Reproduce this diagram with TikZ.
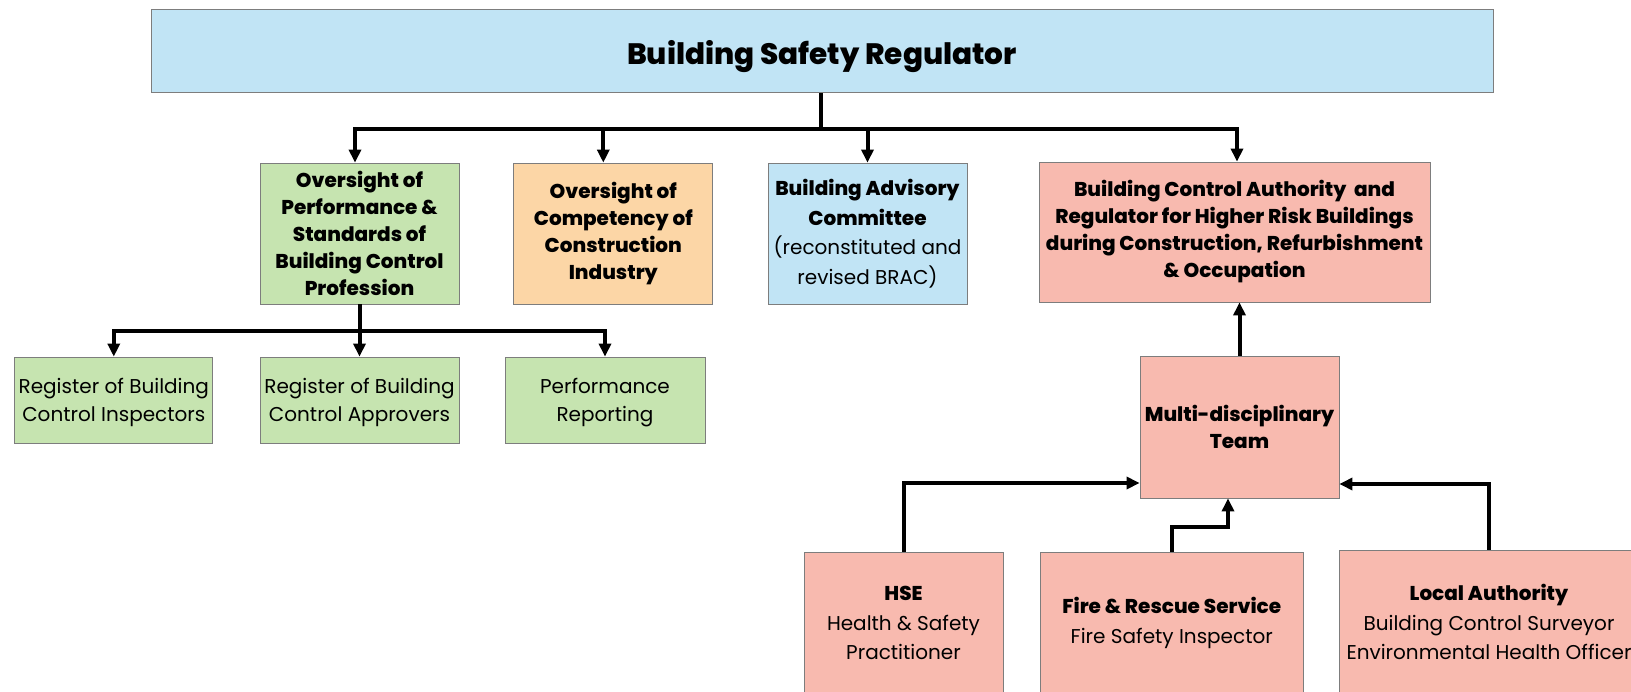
\documentclass[tikz,border=0pt]{standalone}
\usepackage{fontspec}
\setmainfont{Poppins}[BoldFont={Poppins ExtraBold}]
\usetikzlibrary{arrows.meta}
\definecolor{bsrblue}{RGB}{193,228,245}
\definecolor{bsrgreen}{RGB}{198,228,176}
\definecolor{bsrorange}{RGB}{252,214,166}
\definecolor{bsrred}{RGB}{248,186,175}
\definecolor{bsrborder}{RGB}{125,125,125}
\begin{document}
\begin{tikzpicture}[x=1pt,y=-1pt,
  box/.style={draw=bsrborder, line width=0.8pt, align=center, inner sep=0pt},
  boldtxt/.style={font=\fontsize{20}{27}\selectfont\bfseries},
  regtxt/.style={font=\fontsize{20}{29.5}\selectfont},
  regsmall/.style={font=\fontsize{20}{28}\selectfont, text depth=0pt},
  link/.style={line width=4pt, black},
  arr/.style={line width=4pt, black, -{Triangle[width=12pt,length=13pt]}}]
\useasboundingbox (0,0) rectangle (1631,691);
\clip (0,0) rectangle (1631,691);
\fill[white] (0,0) rectangle (1631,691);

% top
\node[box, fill=bsrblue, minimum width=1342pt, minimum height=83pt, text height=26pt, text depth=0pt,
  font=\fontsize{29.5}{32}\selectfont\bfseries] (bsr) at (822,51) {Building Safety Regulator};

% second row
\node[box, boldtxt, fill=bsrgreen, minimum width=199pt, minimum height=141pt] (ovp) at (359.5,233.5)
  {Oversight of\\Performance \&\\Standards of\\Building Control\\Profession};
\node[box, boldtxt, fill=bsrorange, minimum width=199pt, minimum height=141pt] (occ) at (613.3,233.5)
  {Oversight of\\Competency of\\Construction\\Industry};
\node[box, regtxt, fill=bsrblue, minimum width=199pt, minimum height=141pt] (bac) at (867.5,233.5)
  {\textbf{Building Advisory}\\\textbf{Committee}\\(reconstituted and\\revised BRAC)};
\node[box, boldtxt, fill=bsrred, minimum width=391pt, minimum height=140pt] (bca) at (1234.5,232)
  {Building Control Authority\ \ and\\Regulator for Higher Risk Buildings\\during Construction, Refurbishment\\\& Occupation};

% registers
\node[box, regsmall, fill=bsrgreen, minimum width=198pt, minimum height=86pt] (reg1) at (113.8,400)
  {Register of Building\\Control Inspectors};
\node[box, regsmall, fill=bsrgreen, minimum width=199pt, minimum height=86pt] (reg2) at (359.5,400)
  {Register of Building\\Control Approvers};
\node[box, regsmall, fill=bsrgreen, minimum width=200pt, minimum height=86pt] (perf) at (605,400)
  {Performance\\Reporting};

% team
\node[box, boldtxt, fill=bsrred, minimum width=199pt, minimum height=142pt] (mdt) at (1239.5,427)
  {Multi-disciplinary\\Team};
\node[box, regtxt, fill=bsrred, minimum width=199pt, minimum height=142pt] (hse) at (903.5,623)
  {\textbf{HSE}\\Health \& Safety\\Practitioner};
\node[box, regtxt, fill=bsrred, minimum width=262.5pt, minimum height=142pt] (fire) at (1171.75,623)
  {\textbf{Fire \& Rescue Service}\\Fire Safety Inspector};
\node[box, regtxt, fill=bsrred, minimum width=300pt, minimum height=144pt] (la) at (1489,622)
  {\textbf{Local Authority}\\Building Control Surveyor\\Environmental Health Officer};

% connectors
\coordinate (bus) at (821,129);
\draw[link] (bsr.south -| bus) -- (bus);
\draw[arr] (bus) -| ([xshift=-4.5pt]ovp.north);
\draw[arr] (bus) -| ([xshift=-10pt]occ.north);
\draw[arr] (bus) -| (bac.north);
\draw[arr] (bus) -| ([xshift=2.5pt]bca.north);

\coordinate (bus2) at (359.5,331);
\draw[link] (ovp.south) -- (bus2);
\draw[arr] (bus2) -| (reg1.north);
\draw[arr] (bus2) -- (reg2.north);
\draw[arr] (bus2) -| (perf.north);

\draw[arr] (mdt.north) -- (mdt.north |- bca.south);

\coordinate (hy) at (0,483);
\draw[arr] (hse.north) |- (mdt.west |- hy);
\coordinate (fk) at (1228,527);
\draw[arr] (fire.north) |- (fk) -- (fk |- mdt.south);
\coordinate (ly) at (0,484);
\draw[arr] (la.north) |- (mdt.east |- ly);
\end{tikzpicture}
\end{document}
